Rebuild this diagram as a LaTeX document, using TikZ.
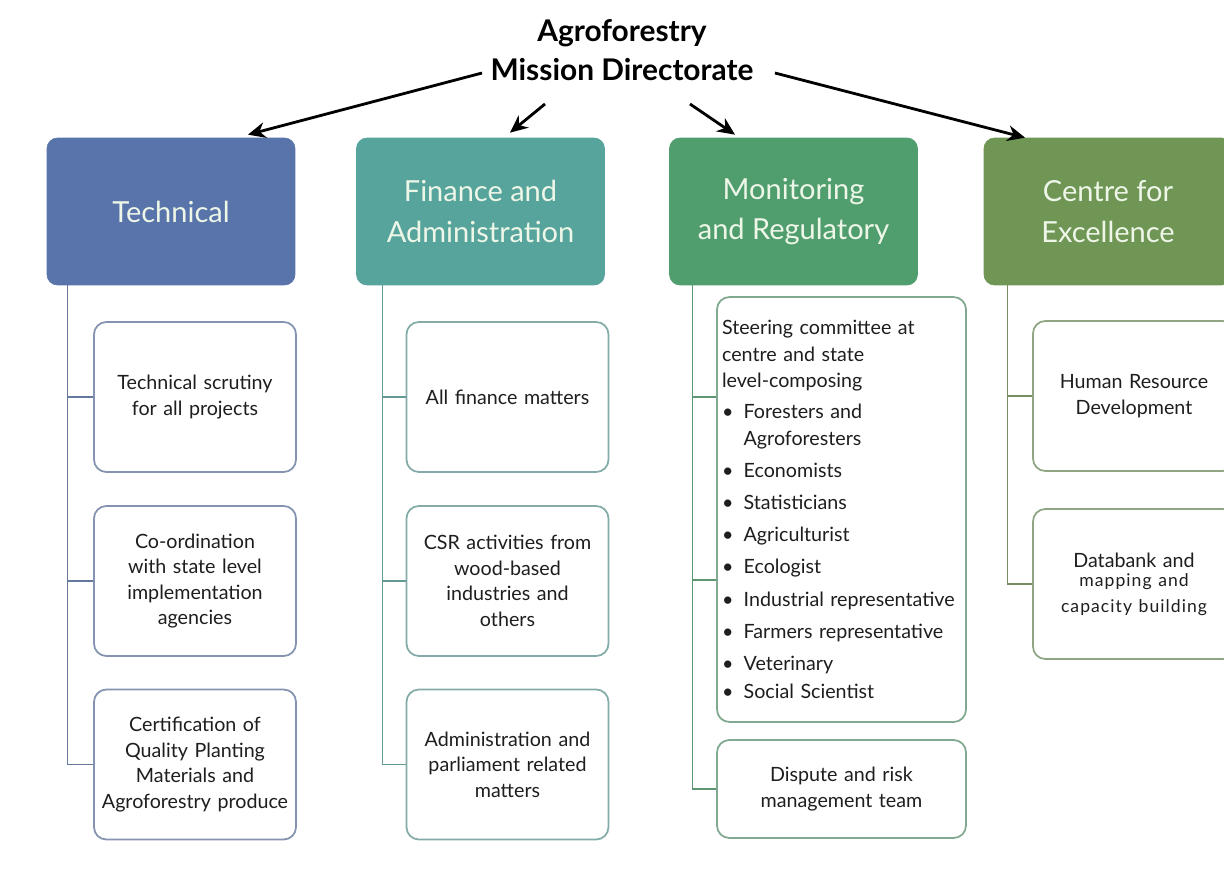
\documentclass[tikz,border=0pt]{standalone}
\usepackage{fontspec}
\setmainfont{Lato}
\usepackage{tikz}
\usetikzlibrary{arrows.meta,positioning,calc}
\definecolor{coltech}{RGB}{88,116,170}
\definecolor{colfin}{RGB}{86,164,156}
\definecolor{colmon}{RGB}{80,158,110}
\definecolor{colcen}{RGB}{112,150,86}
\definecolor{coltxt}{RGB}{30,30,30}
\definecolor{colhdtxt}{RGB}{238,246,232}
\newcommand{\mbul}{\makebox[1.1em][l]{\textbullet}}

\begin{document}
\begin{tikzpicture}[x=0.02cm, y=-0.02cm,
  hd/.style={rectangle, rounded corners=6pt, draw=#1, fill=#1,
    minimum width=4.96cm, minimum height=2.94cm, align=center,
    text=colhdtxt, font=\fontsize{16.5}{23}\selectfont},
  sub/.style={rectangle, rounded corners=7pt, draw=#1!65!gray!80, line width=1pt,
    fill=white, minimum width=4.04cm, minimum height=3cm, text width=3.8cm,
    align=center, text=coltxt, font=\fontsize{11.2}{14.5}\selectfont},
  conn/.style={line width=0.7pt, draw=#1!70!gray},
  arr/.style={-{Stealth[length=10pt,width=9pt]}, line width=1.6pt, black}
]
  \clip (0,0) rectangle (1224,869);
  \fill[white] (0,0) rectangle (1224,869);

  % top title
  \node[font=\fontsize{17}{22.5}\selectfont\bfseries, text=black, align=center]
    (title) at (622,50) {Agroforestry\\Mission Directorate};

  % the four wings
  \node[hd=coltech] (tech) at (171,211.5)  {Technical};
  \node[hd=colfin]  (fin)  at (480.5,211.5) {Finance and\\Administration};
  \node[hd=colmon]  (mon)  at (793.5,211.5) {Monitoring\\and Regulatory};
  \node[hd=colcen]  (cen)  at (1108,211.5)  {Centre for\\Excellence};

  \draw[arr] ([xshift=-2.8cm,yshift=-0.46cm]title.center) -- ([xshift=1.54cm,yshift=0.06cm]tech.north);
  \draw[arr] ([xshift=-1.54cm,yshift=-1.08cm]title.center) -- ([xshift=0.59cm,yshift=0.1cm]fin.north);
  \draw[arr] ([xshift=1.36cm,yshift=-1.08cm]title.center) -- ([xshift=-1.17cm,yshift=0.06cm]mon.north);
  \draw[arr] ([xshift=3.06cm,yshift=-0.46cm]title.center) -- ([xshift=-1.66cm]cen.north);

  % Technical
  \node[sub=coltech] (t1) at (195,397)   {Technical scrutiny\\for all projects};
  \node[sub=coltech] (t2) at (195,581)   {Co-ordination\\with state level\\implementation\\agencies};
  \node[sub=coltech] (t3) at (195,764.5) {Certification of\\Quality Planting\\Materials and\\Agroforestry produce};

  % Finance and Administration
  \node[sub=colfin] (f1) at (507.5,397)   {All finance matters};
  \node[sub=colfin] (f2) at (507.5,581)   {CSR activities from\\wood-based\\industries and\\others};
  \node[sub=colfin] (f3) at (507.5,764.5) {Administration and\\parliament related\\matters};

  % Monitoring and Regulatory
  \node[sub=colmon, minimum width=4.98cm, minimum height=8.5cm, text width=4.78cm,
    inner xsep=0.09cm, align=left, font=\fontsize{11.2}{15.3}\selectfont] (m1) at (841.5,509.5)
    {Steering committee at\\centre and state\\level-composing\\[2pt]
     \mbul Foresters and\\\hspace*{1.1em}Agroforesters\\[3pt]
     \mbul Economists\\[3pt]
     \mbul Statisticians\\[3pt]
     \mbul Agriculturist\\[3pt]
     \mbul Ecologist\\[3pt]
     \mbul \mbox{Industrial representative}\\[3pt]
     \mbul \mbox{Farmers representative}\\[3pt]
     \mbul Veterinary\\[1pt]
     \mbul Social Scientist};
  \node[sub=colmon, minimum width=4.98cm, minimum height=1.96cm] (m2) at (841.5,789)
    {Dispute and risk\\management team};

  % Centre for Excellence
  \node[sub=colcen] (c1) at (1134,396) {Human Resource\\Development};
  \node[sub=colcen] (c2) at (1134,584)
    {Databank and\\[-2pt]{\fontsize{10}{13}\selectfont\addfontfeature{LetterSpace=6}mapping and\\capacity building}};

  % tree connectors
  \coordinate (tv) at ([xshift=0.42cm]tech.south west);
  \coordinate (fv) at ([xshift=0.52cm]fin.south west);
  \coordinate (mv) at ([xshift=0.46cm]mon.south west);
  \coordinate (cv) at ([xshift=0.48cm]cen.south west);
  \foreach \b in {t1,t2,t3} \draw[conn=coltech] (tv) |- (\b.west);
  \foreach \b in {f1,f2,f3} \draw[conn=colfin] (fv) |- (\b.west);
  \draw[conn=colmon] (mv) |- ([yshift=2.25cm]m1.west);
  \draw[conn=colmon] (mv) |- ([yshift=-1.41cm]m1.west);
  \draw[conn=colmon] (mv) |- (m2.west);
  \foreach \b in {c1,c2} \draw[conn=colcen] (cv) |- (\b.west);
\end{tikzpicture}
\end{document}
